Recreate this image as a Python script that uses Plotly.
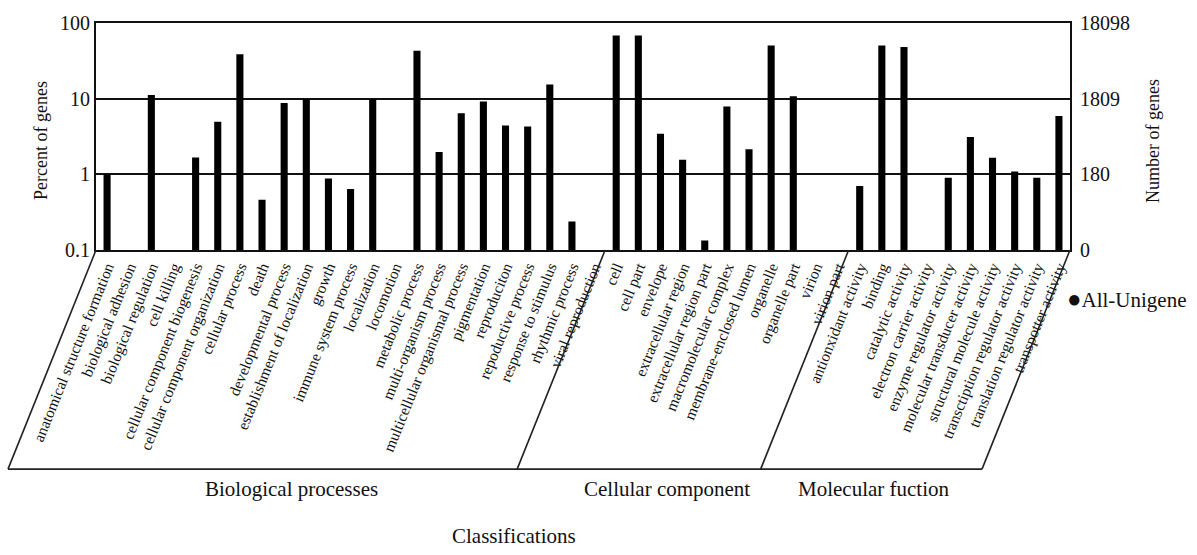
import plotly.graph_objects as go

categories = [
    "anatomical structure formation", "biological adhesion", "biological regulation", "cell killing",
    "cellular component biogenesis", "cellular component organization", "cellular process", "death",
    "developmental process", "establishment of localization", "growth", "immune system process",
    "localization", "locomotion", "metabolic process", "multi-organism process",
    "multicellular organismal process", "pigmentation", "reproduciton", "repoductive process",
    "response to stimulus", "rhythmic process", "viral reproduction",
    "cell", "cell part", "envelope", "extracellular region", "extracellular region part",
    "macromolecular complex", "membrane-enclosed lumen", "organelle", "organelle part", "virion", "virion part",
    "antionxidant activity", "binding", "catalytic activity", "electron carrier activity",
    "enzyme regulator activity", "molecular transducer activity", "structural molecule activity",
    "transctiption regulator activity", "translation regulator activity", "transpotter activity",
]

percent_values = [
    1.0, None, 11.2, None,
    1.67, 4.97, 38.6, 0.46,
    8.75, 9.9, 0.88, 0.64,
    9.9, None, 43.0, 1.98,
    6.4, 9.2, 4.42, 4.3,
    15.4, 0.238, None,
    68.6, 68.6, 3.45, 1.56, 0.134,
    7.9, 2.14, 50.5, 10.8, None, None,
    0.70, 50.5, 48.0, None,
    0.9, 3.12, 1.66,
    1.09, 0.9, 5.9,
]

left_tick_vals = [0.1, 1, 10, 100]
left_tick_text = ["0.1", "1", "10", "100"]
right_tick_text = ["0", "180", "1809", "18098"]

groups = ["Biological processes", "Cellular component", "Molecular fuction"]
series_name = "All-Unigene"

FONT = "Liberation Serif, Times New Roman, serif"
TXT = "#111"
W, H = 1197, 555
L, R, T, B = 96, 127, 19, 305
pw, ph = W - L - R, H - T - B


def px(xp):
    return (xp - L) / pw


def py(yp):
    return (H - B - yp) / ph


fig = go.Figure()
fig.add_trace(go.Bar(
    x=categories, y=percent_values, marker=dict(color="black", line=dict(width=0)),
    showlegend=False, hoverinfo="x+y",
))
fig.add_trace(go.Scatter(
    x=[categories[0]], y=[None], yaxis="y2", mode="markers",
    marker=dict(color="black", size=11, symbol="circle"),
    name=series_name, showlegend=False, hoverinfo="skip",
))

shapes = []
line = dict(color="#222", width=1.6)
bottom_y = py(473)
shift = px(8)
shapes.append(dict(type="line", xref="paper", yref="paper", x0=0, y0=0, x1=shift, y1=bottom_y, line=line))
shapes.append(dict(type="line", xref="paper", yref="paper", x0=1, y0=0, x1=1 + shift, y1=bottom_y, line=line))
shapes.append(dict(type="line", xref="paper", yref="paper", x0=shift, y0=bottom_y, x1=1 + shift, y1=bottom_y, line=line))
n = len(categories)
for b in [23, 34]:
    xb = b / n
    shapes.append(dict(type="line", xref="paper", yref="paper", x0=xb, y0=0, x1=xb + shift, y1=bottom_y, line=line))


def ann(text, x, y, size=21, angle=0, xanchor="center"):
    return dict(text=text, x=px(x), y=py(y), xref="paper", yref="paper", showarrow=False,
                xanchor=xanchor, yanchor="middle", textangle=angle,
                font=dict(family=FONT, size=size, color=TXT))


annotations = [
    ann(groups[0], 291, 493),
    ann(groups[1], 667, 493),
    ann(groups[2], 874, 493),
    ann("Classifications", 514, 541),
    ann("Percent of genes", 41, 139, size=18, angle=-90),
    ann("Number of genes", 1153, 139, size=18, angle=-90),
    ann("<span style='font-size:24px'>\u25cf</span>" + series_name, 1065, 300, size=21, xanchor="left"),
]

fig.update_layout(
    width=W, height=H,
    margin=dict(l=L, r=R, t=T, b=B, pad=0),
    paper_bgcolor="white", plot_bgcolor="white",
    bargap=0.68,
    showlegend=False,
    font=dict(family=FONT, color=TXT),
    xaxis=dict(
        type="category", tickmode="array", tickvals=categories, ticktext=categories,
        tickangle=-68, tickfont=dict(family=FONT, size=15.5, color=TXT),
        showline=True, linecolor="#111", linewidth=2, mirror=True, ticks="",
        showgrid=False, range=[-0.5, n - 0.5], fixedrange=True,
    ),
    yaxis=dict(
        type="log", range=[-1, 2], tickmode="array", tickvals=left_tick_vals, ticktext=left_tick_text,
        tickfont=dict(family=FONT, size=20, color=TXT),
        showgrid=True, gridcolor="#111", gridwidth=1.8,
        showline=True, linecolor="#111", linewidth=2, ticks="", zeroline=False,
    ),
    yaxis2=dict(
        type="log", range=[-1, 2], overlaying="y", side="right", tickmode="array",
        tickvals=left_tick_vals, ticktext=right_tick_text,
        tickfont=dict(family=FONT, size=20, color=TXT),
        showgrid=False, showline=True, linecolor="#111", linewidth=2, ticks="",
        ticklabelstandoff=4,
    ),
    shapes=shapes,
    annotations=annotations,
)

fig.write_html("out.html")
